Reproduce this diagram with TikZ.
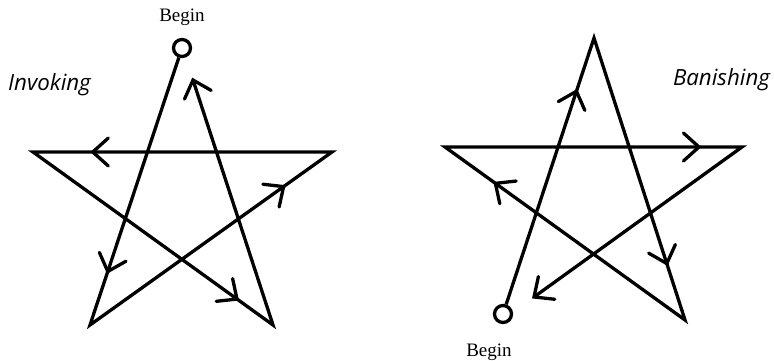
\documentclass[tikz,border=0pt]{standalone}
\usepackage{fontspec}
\setmainfont{Liberation Serif}
\newfontfamily\labelfont{Open Sans}
\usetikzlibrary{decorations.markings}
\begin{document}
\begin{tikzpicture}[x=1pt,y=-1pt,
  edge/.style={line width=3.3pt, line cap=butt, line join=miter},
  barbtip/.style={line width=3.3pt, line cap=round, line join=miter},
  midarrow/.style={postaction={decorate},
    decoration={markings,mark=at position #1 with {\draw[barbtip] (-15.5pt,14pt) -- (0pt,0pt) -- (-15.5pt,-14pt);}}},
  begintext/.style={font=\fontsize{19}{21}\selectfont, inner sep=0pt, anchor=base},
  labeltext/.style={font=\labelfont\itshape\fontsize{22.3}{24}\selectfont, inner sep=0pt, anchor=base},
  startdot/.style={circle, draw, line width=3.3pt, minimum size=17pt, inner sep=0pt}
]
\useasboundingbox[fill=white] (0,0) rectangle (774,361);

% ---------- Invoking pentagram ----------
\node[startdot] (Ltop) at (182,48) {};
\coordinate (Lbl) at (90,325);
\coordinate (Lr) at (332,152);
\coordinate (Ll) at (33,152);
\coordinate (Lbr) at (273,325);
\coordinate (Lend) at (193,80);
\draw[edge] (Ltop) -- (Lbl) -- (Lr) -- (Ll) -- (Lbr) -- (Lend);
\path[midarrow=0.80] (Ltop) -- (Lbl);
\path[midarrow=0.80] (Lbl) -- (Lr);
\path[midarrow=0.80] (Lr) -- (Ll);
\path[midarrow=0.85] (Ll) -- (Lbr);
\path[midarrow=1] (Lbr) -- (Lend);
\node[begintext] (Lbegin) at (182,21.5) {Begin};
\node[labeltext] (inv) at (49.5,90) {Invoking};

% ---------- Banishing pentagram ----------
\node[startdot] (Rstart) at (503,314) {};
\coordinate (Rtop) at (594,38);
\coordinate (Rbr) at (685,320);
\coordinate (Rl) at (445,147);
\coordinate (Rr) at (742,147);
\coordinate (Rend) at (534,297);
\draw[edge] (Rstart) -- (Rtop) -- (Rbr) -- (Rl) -- (Rr) -- (Rend);
\path[midarrow=0.80] (Rstart) -- (Rtop);
\path[midarrow=0.80] (Rtop) -- (Rbr);
\path[midarrow=0.79] (Rbr) -- (Rl);
\path[midarrow=0.855] (Rl) -- (Rr);
\path[midarrow=1] (Rr) -- (Rend);
\node[begintext] (Rbegin) at (489,356) {Begin};
\node[labeltext] (ban) at (721.5,85) {Banishing};
\end{tikzpicture}
\end{document}
